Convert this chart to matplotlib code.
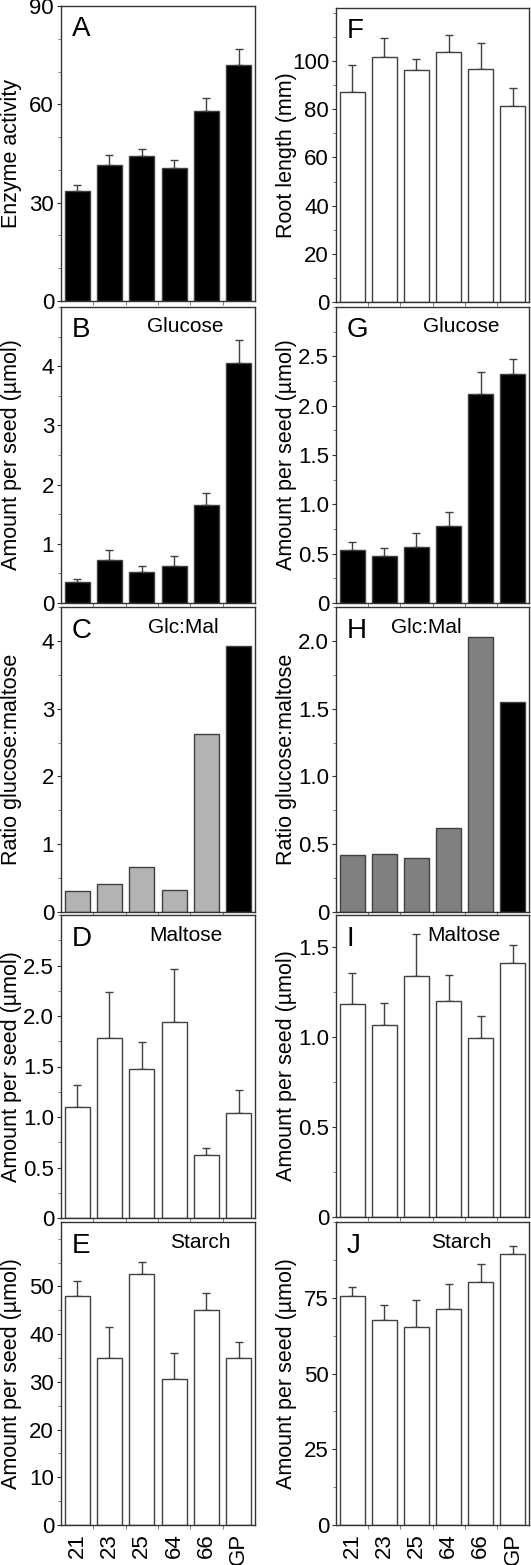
import numpy as np
import matplotlib
matplotlib.use('Agg')
import matplotlib.pyplot as plt
from matplotlib.ticker import MultipleLocator, FuncFormatter

plt.rcParams['font.family'] = ['Liberation Sans', 'DejaVu Sans']

# ---- data ----
lines = ['21', '23', '25', '64', '66', 'GP']

enzyme = [33.7, 41.5, 44.2, 40.7, 58.0, 71.9]
enzyme_err = [1.8, 2.9, 2.1, 2.2, 3.9, 5.0]

root_len = [87.2, 101.8, 96.1, 103.9, 96.5, 81.5]
root_len_err = [11.0, 7.8, 4.6, 6.9, 11.1, 7.5]

glc_a = [0.35, 0.73, 0.53, 0.63, 1.65, 4.06]
glc_a_err = [0.05, 0.17, 0.09, 0.16, 0.20, 0.38]

glc_b = [0.54, 0.48, 0.57, 0.78, 2.12, 2.32]
glc_b_err = [0.08, 0.08, 0.14, 0.14, 0.22, 0.15]

ratio_a = [0.31, 0.41, 0.67, 0.32, 2.63, 3.92]
ratio_b = [0.42, 0.43, 0.40, 0.62, 2.03, 1.55]

mal_a = [1.10, 1.78, 1.48, 1.94, 0.62, 1.04]
mal_a_err = [0.22, 0.46, 0.26, 0.53, 0.07, 0.23]

mal_b = [1.185, 1.069, 1.343, 1.204, 0.998, 1.415]
mal_b_err = [0.17, 0.12, 0.23, 0.14, 0.12, 0.10]

starch_a = [48.0, 35.0, 52.7, 30.5, 45.0, 35.0]
starch_a_err = [3.2, 6.4, 2.5, 5.5, 3.7, 3.3]

starch_b = [75.6, 67.7, 65.5, 71.3, 80.2, 89.5]
starch_b_err = [3.0, 4.9, 8.6, 8.4, 6.0, 2.7]

W, H = 531, 1565
fig = plt.figure(figsize=(W / 100, H / 100), dpi=100)

EDGE = '#404040'


def add_ax(l, t, r, b):
    return fig.add_axes([l / W, 1 - b / H, (r - l) / W, (b - t) / H])


def fmt1(v, pos):
    return '0' if abs(v) < 1e-9 else f'{v:.1f}'


def panel(box, vals, err, colors, ylim, yticks, minor, letter, note, note_x,
          ylabel, bottom=False, onedec=False):
    ax = add_ax(*box)
    x = np.arange(len(vals))
    ax.bar(x, vals, width=0.78, color=colors, edgecolor=EDGE, linewidth=1.0,
           zorder=2)
    if err is not None:
        ax.errorbar(x, vals, yerr=[np.zeros(len(err)), err], fmt='none',
                    ecolor=EDGE, elinewidth=1.0, capsize=3, capthick=1.0,
                    zorder=1)
    ax.set_xlim(-0.5, len(vals) - 0.5)
    ax.set_ylim(*ylim)
    ax.set_yticks(yticks)
    ax.yaxis.set_minor_locator(MultipleLocator(minor))
    if onedec:
        ax.yaxis.set_major_formatter(FuncFormatter(fmt1))
    ax.tick_params(axis='y', which='major', length=3, width=0.8,
                   labelsize=16, colors='#333333', labelcolor='black',
                   pad=2)
    ax.tick_params(axis='y', which='minor', length=2, width=0.6,
                   colors='#666666')
    ax.set_xticks(x)
    ax.set_xticks(np.arange(len(vals) - 1) + 0.5, minor=True)
    ax.tick_params(axis='x', which='major', length=0, labelsize=16, pad=6)
    ax.tick_params(axis='x', which='minor', length=3, width=0.6,
                   colors='#666666')
    if bottom:
        ax.set_xticklabels(lines, rotation=90)
    else:
        ax.set_xticklabels([])
    for s in ax.spines.values():
        s.set_color('#333333')
        s.set_linewidth(1.0)
    ax.text(0.055, 0.965, letter, transform=ax.transAxes, fontsize=20,
            ha='left', va='top')
    if note:
        ax.text(note_x, 0.965, note, transform=ax.transAxes, fontsize=15,
                ha='center', va='top')
    ax.set_ylabel(ylabel, fontsize=15.5)
    ax.yaxis.set_label_coords(-0.2, 0.5)
    return ax


L = (61, 255)
R = (336, 529)
amt = 'Amount per seed (µmol)'

panel((L[0], 6, L[1], 301), enzyme, enzyme_err, 'black', (0, 90),
      [0, 30, 60, 90], 10, 'A', None, 0, 'Enzyme activity')
panel((L[0], 307, L[1], 603), glc_a, glc_a_err, 'black', (0, 5),
      [0, 1, 2, 3, 4], 0.5, 'B', 'Glucose', 0.64, amt)
panel((L[0], 607, L[1], 912), ratio_a, None,
      ['#b3b3b3'] * 5 + ['black'], (0, 4.5), [0, 1, 2, 3, 4], 0.5,
      'C', 'Glc:Mal', 0.63, 'Ratio glucose:maltose')
panel((L[0], 915, L[1], 1218), mal_a, mal_a_err, 'white', (0, 3),
      [0, 0.5, 1.0, 1.5, 2.0, 2.5], 0.25, 'D', 'Maltose', 0.645, amt,
      onedec=True)
panel((L[0], 1222, L[1], 1525), starch_a, starch_a_err, 'white', (0, 63.5),
      [0, 10, 20, 30, 40, 50], 5, 'E', 'Starch', 0.72, amt, bottom=True)

panel((R[0], 8, R[1], 302), root_len, root_len_err, 'white', (0, 122),
      [0, 20, 40, 60, 80, 100], 10, 'F', None, 0, 'Root length (mm)')
panel((R[0], 307, R[1], 603), glc_b, glc_b_err, 'black', (0, 3),
      [0, 0.5, 1.0, 1.5, 2.0, 2.5], 0.25, 'G', 'Glucose', 0.65, amt,
      onedec=True)
panel((R[0], 607, R[1], 912), ratio_b, None,
      ['#808080'] * 5 + ['black'], (0, 2.25), [0, 0.5, 1.0, 1.5, 2.0], 0.25,
      'H', 'Glc:Mal', 0.47, 'Ratio glucose:maltose', onedec=True)
panel((R[0], 915, R[1], 1217), mal_b, mal_b_err, 'white', (0, 1.68),
      [0, 0.5, 1.0, 1.5], 0.25, 'I', 'Maltose', 0.66, amt, onedec=True)
panel((R[0], 1222, R[1], 1525), starch_b, starch_b_err, 'white', (0, 100),
      [0, 25, 50, 75], 12.5, 'J', 'Starch', 0.65, amt, bottom=True)

fig.savefig('out.png', dpi=100)
